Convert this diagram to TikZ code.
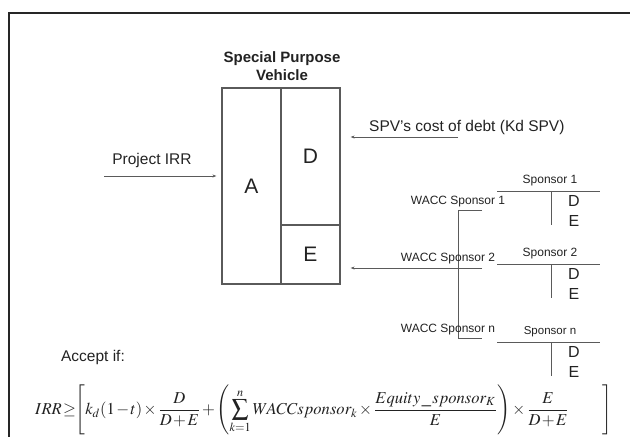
\documentclass[tikz,border=0pt]{standalone}
\usepackage{mathptmx}
\usepackage[no-math]{fontspec}
\setmainfont{Liberation Sans}
\usetikzlibrary{arrows.meta}
\definecolor{ink}{HTML}{222222}
\definecolor{rule}{HTML}{5A5A5A}
\tikzset{
  lbl/.style={inner sep=0pt, text=ink, font=\fontsize{#1}{#1}\selectfont},
  lbl/.default=15.5,
  cell/.style={draw=rule, line width=1.2pt, inner sep=0pt, text=ink,
    font=\fontsize{21}{21}\selectfont},
  flow/.style={draw=rule, line width=0.8pt, -{Stealth[length=4pt,width=3pt]}},
  tacct/.style={draw=rule, line width=1pt},
}
\begin{document}
\begin{tikzpicture}[x=1pt,y=-1pt]
\useasboundingbox (0,0) rectangle (630,437);
% frame
\draw[line width=2pt, black!85] (630,12.5) -- (9,12.5) -- (9,437);

% special purpose vehicle balance sheet
\node[lbl=15, font=\bfseries\fontsize{15}{18}\selectfont, align=center] (title) at (282,66)
  {Special Purpose\\Vehicle};
\node[cell, minimum width=59pt, minimum height=196pt] (A) at (251.5,186) {A};
\node[cell, minimum width=59pt, minimum height=137pt] (D) at (310.5,156.5) {D};
\node[cell, minimum width=59pt, minimum height=59pt] (E) at (310.5,254.5) {E};

% project IRR
\node[lbl] (irr) at (152,160) {Project IRR};
\coordinate (irrs) at (104,176);
\draw[flow, shorten >=5pt] (irrs) -- (A.west |- irrs);

% cost of debt
\node[lbl, anchor=west] (kd) at (369,127) {SPV’s cost of debt (Kd SPV)};
\coordinate (kds) at (458,137);
\draw[flow, shorten >=10pt] (kds) -- (D.east |- kds);

% sponsors' WACC feeding equity
\coordinate (ws) at (482,268);
\draw[flow, shorten >=10pt] (ws) -- (E.east |- ws);
\coordinate (b1) at (482,210);
\coordinate (bn) at (482,338);
\draw[tacct] (b1) -- (458,210) -- (458,338) -- (bn);
\node[lbl=12] (w1) at (458,202) {WACC Sponsor 1};
\node[lbl=12] (w2) at (448,259) {WACC Sponsor 2};
\node[lbl=12] (wn) at (448,330) {WACC Sponsor n};

% sponsor T-accounts
\foreach \nm/\y/\sz in {1/191/12, 2/264/12, n/342/11.5}{
  \draw[tacct] (497,\y) -- (600,\y);
  \draw[tacct] (551,\y) -- (551,\y+34);
  \node[lbl=\sz] (s\nm) at (550,\y-10) {Sponsor \nm};
  \node[lbl=16] (s\nm d) at (574,\y+10) {D};
  \node[lbl=16] (s\nm e) at (574,\y+30) {E};
}

% acceptance rule
\node[lbl] (acc) at (93,357) {Accept if:};
\node[anchor=north west, inner sep=0pt, text=ink] (rule) at (35,385)
  {\medmuskip=1.5mu\thickmuskip=1.5mu\resizebox*{577pt}{50pt}{$\displaystyle IRR \geq\! \left[ k_d(1-t)\times\frac{D}{D+E}
   + \left(\sum_{k=1}^{n} WACCsponsor_k \times \frac{Equity\;\_\;sponsor_K}{E}\right)
   \times\frac{E}{D+E}\qquad\right]$}};
\end{tikzpicture}
\end{document}
